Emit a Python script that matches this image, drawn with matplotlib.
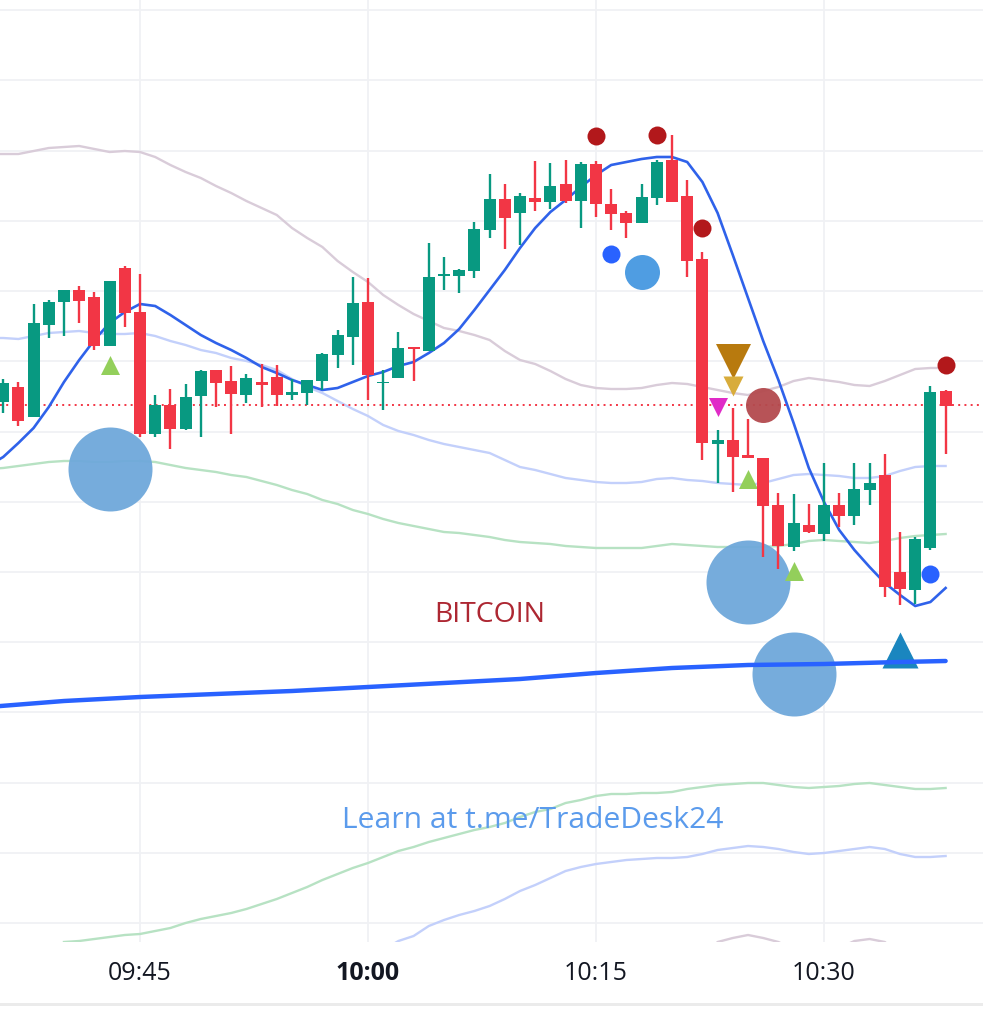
import matplotlib
matplotlib.use("Agg")
import matplotlib.pyplot as plt
from matplotlib.patches import Rectangle

# Time in minutes after 09:45; prices in chart units (the reference has no price scale)
candle_min = list(range(-9, 54))
opens = [615,630,600,692,715,727,720,671,749,705,583,612,588,621,647,636,622,635,640,622,624,636,662,680,715,634,639,670,666,741,741,746,787,818,804,819,815,833,816,853,813,804,794,819,857,821,758,573,577,562,559,512,470,492,483,512,501,527,542,445,427,469,626]
highs = [638,635,713,717,727,731,725,736,751,743,622,628,633,647,647,651,643,653,652,638,637,664,687,740,739,647,685,670,774,760,748,795,843,833,824,856,854,857,855,856,828,806,833,857,882,837,765,587,609,598,559,524,523,513,554,524,554,554,563,485,480,631,627]
lows = [604,591,600,679,681,694,667,671,690,580,580,568,587,580,610,583,614,610,611,617,612,627,649,652,617,607,639,636,666,727,724,739,779,768,772,806,808,814,789,800,787,779,794,812,815,740,557,534,525,559,460,448,466,484,476,490,492,512,420,412,413,467,563]
closes = [634,596,694,715,727,716,671,736,704,583,612,588,620,646,634,623,639,632,622,625,637,663,682,714,642,635,669,668,740,743,747,788,818,799,821,815,831,816,853,813,803,794,820,855,815,756,574,577,560,559,511,471,494,485,512,501,528,534,430,428,478,625,611]

band_min = list(range(-10, 54))
fast_ma = [551,560,574,589,610,635,657,677,694,705,713,711,702,692,682,674,667,659,650,644,637,632,627,629,635,641,645,651,655,664,674,688,707,727,747,769,789,805,817,830,842,852,855,858,860,860,855,835,804,762,719,676,637,594,549,515,487,467,450,434,422,411,415,429]
upper_outer = [863,863,863,866,869,870,871,868,865,866,865,860,852,845,839,831,824,816,809,802,789,779,770,756,745,735,722,712,703,696,689,686,682,677,666,657,653,646,638,632,629,628,628,629,632,634,633,630,627,624,622,626,630,636,639,637,635,632,631,636,642,648,649,649]
upper_mid = [679,679,678,681,684,685,686,684,683,683,684,681,676,672,667,664,659,656,652,647,638,630,624,616,608,601,592,586,582,577,573,570,567,564,557,550,547,543,539,537,535,534,534,535,538,539,537,536,534,533,532,534,538,542,543,542,541,539,539,541,546,550,551,551]
upper_inner = [548,549,551,553,555,556,556,555,555,556,556,555,552,549,547,545,542,540,536,532,527,523,517,513,507,503,498,494,491,488,485,484,482,480,477,475,474,473,471,470,469,469,469,469,471,473,472,471,470,470,470,470,471,473,476,477,476,475,474,476,479,481,482,483]

lower_inner_min = list(range(-5, 54))
lower_inner = [75,76,78,80,82,83,86,89,94,98,101,104,108,113,118,124,130,137,143,149,154,160,166,170,175,179,183,187,190,194,200,205,208,214,217,221,223,223,224,224,225,228,230,232,233,234,234,232,230,229,230,231,233,234,232,230,228,228,229]
lower_mid_min = list(range(16, 54))
lower_mid = [67,76,81,91,97,102,106,111,118,126,132,139,146,150,153,155,157,158,159,159,160,163,167,169,171,170,168,165,163,164,166,168,170,168,163,160,160,161]
lower_outer_min = list(range(37, 51))
lower_outer = [57,75,79,82,79,75,67,62,61,69,76,78,75,62]

slow_ma_min = [-10,-5,0,5,10,15,20,25,30,35,40,45,50,53]
slow_ma = [310,316,320,323,326,330,334,338,344,349,352,353,355,356]

last_price = 612

dark_dot_min, dark_dot_y = [30,34,37,53], [881,882,789,652]
blue_dot_min, blue_dot_y = [31,52], [763,443]
mid_dot_min, mid_dot_y = [33], [745]
big_dot_min, big_dot_y = [-2,40,43], [548,435,343]
rust_dot_min, rust_dot_y = [41], [612]
lime_up_min, lime_up_y = [-2,40,43], [652,538,446]
teal_up_min, teal_up_y = [50], [367]
brown_dn_min, brown_dn_y = [39], [656]
gold_dn_min, gold_dn_y = [39], [631]
pink_dn_min, pink_dn_y = [38], [610]

grid_prices = [1007,937,866,796,726,656,585,515,445,375,305,234,164,94]
tick_minutes = [0,15,30,45]
tick_labels = ["09:45","10:00","10:15","10:30"]

GREEN, RED = "#089981", "#f23645"
FONT = "Open Sans"
PX = 0.72

fig = plt.figure(figsize=(9.83, 10.17), dpi=100, facecolor="white")
ax = fig.add_axes([0, 1 - 942 / 1017, 1, 942 / 1017])
ax.set_xlim(-9.21, 55.46)
ax.set_ylim(75, 1017)
for s in ax.spines.values():
    s.set_visible(False)
ax.set_yticks(grid_prices)
ax.set_yticklabels([])
ax.set_xticks(tick_minutes)
ax.set_xticklabels(tick_labels, fontfamily=FONT, fontsize=18, color="#131722")
ax.get_xticklabels()[1].set_fontweight("bold")
ax.tick_params(axis="both", length=0)
ax.tick_params(axis="x", pad=14)
ax.grid(True, color="#f0f1f4", lw=1.3)
ax.set_axisbelow(True)

ax.plot(band_min, upper_outer, color="#d9ccd9", lw=1.7, zorder=2)
ax.plot(band_min, upper_mid, color="#c3d0fb", lw=1.7, zorder=2)
ax.plot(band_min, upper_inner, color="#b7e2c3", lw=1.7, zorder=2)
ax.plot(lower_inner_min, lower_inner, color="#b7e2c3", lw=1.7, zorder=2)
ax.plot(lower_mid_min, lower_mid, color="#c3d0fb", lw=1.7, zorder=2)
ax.plot(lower_outer_min, lower_outer, color="#d9ccd9", lw=1.7, zorder=2)
ax.axhline(last_price, color=RED, lw=1.4, linestyle=(0, (1, 2.2)), zorder=2.5)
ax.plot(band_min, fast_ma, color="#2f62ea", lw=1.9, zorder=3)


def dots(xs, ys, d, color, marker="o", alpha=1.0, z=4):
    ax.scatter(xs, ys, s=(d * PX) ** 2, c=color, marker=marker, alpha=alpha,
               linewidths=0, zorder=z)


dots(big_dot_min, big_dot_y, 84, "#6fa8db", alpha=0.95)
dots(rust_dot_min, rust_dot_y, 35, "#b34a4e", alpha=0.95)
dots(mid_dot_min, mid_dot_y, 35, "#4f9de2")
dots(lime_up_min, lime_up_y, 19, "#93cf5b", marker="^")
dots(teal_up_min, teal_up_y, 36, "#1a86bf", marker="^")
dots(brown_dn_min, brown_dn_y, 35, "#b87a0e", marker="v")
dots(gold_dn_min, gold_dn_y, 20, "#d8ac3b", marker="v")
dots(pink_dn_min, pink_dn_y, 19, "#e02bc7", marker="v")
dots(dark_dot_min, dark_dot_y, 18, "#b2181b")
dots(blue_dot_min, blue_dot_y, 18, "#2962ff")

ax.plot(slow_ma_min, slow_ma, color="#2962ff", lw=3.2, solid_capstyle="round", zorder=5)

colors = [GREEN if c >= o else RED for o, c in zip(opens, closes)]
ax.vlines(candle_min, lows, highs, colors=colors, lw=1.7, zorder=6)
ax.bar(candle_min, [c - o for o, c in zip(opens, closes)], bottom=opens, width=0.79,
       color=colors, linewidth=0, zorder=7)

ax.text(22.99, 402, "BITCOIN", color="#ad2732", fontsize=20.4, fontfamily=FONT,
        ha="center", va="center", zorder=8)
ax.text(25.85, 197, "Learn at t.me/TradeDesk24", color="#5b9bec", fontsize=21.6,
        fontfamily=FONT, ha="center", va="center", zorder=8)

fig.add_artist(Rectangle((0, 1 - 1006 / 1017), 1, 3 / 1017, transform=fig.transFigure,
                         facecolor="#ebebeb", edgecolor="none"))
fig.savefig("out.png", dpi=100, facecolor="white")
